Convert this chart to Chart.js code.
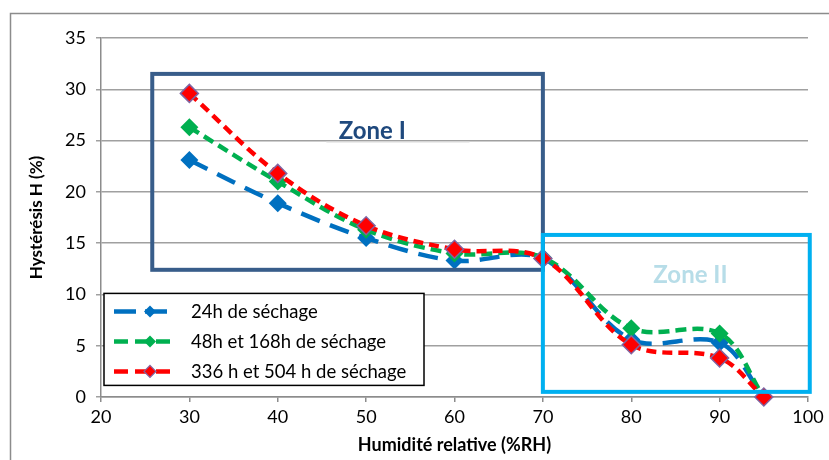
<!DOCTYPE html>
<html>
<head>
<meta charset="utf-8">
<script src="https://cdn.jsdelivr.net/npm/chart.js@4"></script>
<style>
  html, body { margin: 0; padding: 0; background: #fff; }
  #wrap { width: 829px; height: 460px; position: relative; }
</style>
</head>
<body>
<div id="wrap"><canvas id="chart"></canvas></div>
<script>
// Humidité relative (%RH)
const rh = [30, 40, 50, 60, 70, 80, 90, 95];
// Hystérésis H (%)
const h24 = [23.1, 18.9, 15.5, 13.3, 13.5, 5.6, 5.3, 0];
const h48 = [26.3, 21.0, 16.3, 14.0, 13.6, 6.7, 6.2, 0];
const h336 = [29.6, 21.8, 16.7, 14.4, 13.5, 5.1, 3.8, 0];

const seriesLabels = ['24h de séchage', '48h et 168h de séchage', '336 h et 504 h de séchage'];
const seriesColors = ['#0070C0', '#00B050', '#FF0000'];
const seriesDash = [[20, 11], [11, 6], [10, 6]];

// zones in data units: [xMin, xMax, yMin, yMax]
const zone1 = [25.8, 70, 12.4, 31.5];
const zone2 = [70, 100.2, 0.5, 15.8];

const toPoints = (ys) => rh.map((x, i) => ({ x, y: ys[i] }));

function ds(i, ys, order) {
  return {
    label: seriesLabels[i],
    data: toPoints(ys),
    borderColor: seriesColors[i],
    backgroundColor: seriesColors[i],
    borderWidth: 4.5,
    borderDash: seriesDash[i],
    tension: 0.35,
    pointStyle: 'rectRot',
    pointRadius: 9,
    pointBorderWidth: i === 2 ? 1.5 : 0,
    pointBorderColor: i === 2 ? '#8064A2' : seriesColors[i],
    pointBackgroundColor: seriesColors[i],
    clip: false,
    order
  };
}

const font = 'Lato, "Open Sans", sans-serif';

const decor = {
  id: 'decor',
  beforeDraw(chart) {
    const c = chart.ctx;
    c.save();
    c.strokeStyle = '#8c8c8c';
    c.lineWidth = 1.5;
    c.strokeRect(10.5, 13.5, 1000, 1000);
    c.restore();
  },
  afterDatasetsDraw(chart) {
    const c = chart.ctx;
    const xs = chart.scales.x, ys = chart.scales.y;
    const box = (z, col) => {
      const l = xs.getPixelForValue(z[0]), r = xs.getPixelForValue(z[1]);
      const t = ys.getPixelForValue(z[3]), b = ys.getPixelForValue(z[2]);
      c.strokeStyle = col;
      c.lineWidth = 4;
      c.strokeRect(l, t, r - l, b - t);
    };
    c.save();
    box(zone1, '#385D8A');
    box(zone2, '#00B0F0');

    // zone labels
    c.textAlign = 'center';
    c.textBaseline = 'middle';
    c.font = 'bold 24px ' + font;
    c.strokeStyle = '#e0e0e0';
    c.lineWidth = 1;
    c.beginPath();
    c.moveTo(xs.getPixelForValue(45.5), ys.getPixelForValue(24.9) + 0.5);
    c.lineTo(xs.getPixelForValue(61.7), ys.getPixelForValue(24.9) + 0.5);
    c.stroke();
    c.fillStyle = '#1F497D';
    c.fillText('Zone I', xs.getPixelForValue(50.7), ys.getPixelForValue(25.9));
    c.fillStyle = '#B7DDE8';
    c.fillText('Zone II', xs.getPixelForValue(86.7), ys.getPixelForValue(11.9));

    // legend
    const lx = chart.chartArea.left + 3, ly = ys.getPixelForValue(10.1);
    const lw = 320, lh = 92;
    c.fillStyle = '#fff';
    c.fillRect(lx, ly, lw, lh);
    c.strokeStyle = '#000';
    c.lineWidth = 1.5;
    c.strokeRect(lx, ly, lw, lh);
    c.font = '18.5px ' + font;
    c.textAlign = 'left';
    seriesLabels.forEach((lab, i) => {
      const y = ly + 18 + i * 30;
      c.strokeStyle = seriesColors[i];
      c.lineWidth = 4.5;
      c.setLineDash(i === 0 ? [22, 9] : [14, 7]);
      c.beginPath();
      c.moveTo(lx + 10, y);
      c.lineTo(lx + 72, y);
      c.stroke();
      c.setLineDash([]);
      const mx = lx + 46;
      c.fillStyle = seriesColors[i];
      c.beginPath();
      c.moveTo(mx, y - 6); c.lineTo(mx + 6, y); c.lineTo(mx, y + 6); c.lineTo(mx - 6, y);
      c.closePath();
      c.fill();
      if (i === 2) { c.strokeStyle = '#8064A2'; c.lineWidth = 1.2; c.stroke(); }
      c.fillStyle = '#000';
      c.fillText(lab, lx + 87, y + 1);
    });
    c.restore();
  }
};

new Chart(document.getElementById('chart'), {
  type: 'line',
  data: {
    datasets: [ds(0, h24, 3), ds(1, h48, 2), ds(2, h336, 1)]
  },
  options: {
    responsive: true,
    maintainAspectRatio: false,
    animation: false,
    layout: { padding: { top: 38, right: 21, left: 26, bottom: 0 } },
    plugins: { legend: { display: false }, tooltip: { enabled: false } },
    scales: {
      x: {
        type: 'linear',
        min: 20, max: 100,
        ticks: { stepSize: 10, color: '#000', font: { family: font, size: 18 }, padding: 4 },
        grid: { drawOnChartArea: false, drawTicks: true, tickLength: 5, color: '#8c8c8c', lineWidth: 1.5 },
        border: { color: '#8c8c8c', width: 1.5 },
        title: { display: true, text: 'Humidité relative (%RH)', color: '#000', font: { family: font, size: 18, weight: 'bold' }, padding: { top: 4 } },
        afterFit(s) { s.height = 63; }
      },
      y: {
        min: 0, max: 35,
        ticks: { stepSize: 5, color: '#000', font: { family: font, size: 18 }, padding: 10 },
        grid: { color: '#a0a0a0', lineWidth: 1.5, tickLength: 5 },
        border: { color: '#8c8c8c', width: 1.5 },
        title: { display: true, text: 'Hystérésis H (%)', color: '#000', font: { family: font, size: 17, weight: 'bold' }, padding: 0 },
        afterFit(s) { s.width = 75; }
      }
    }
  },
  plugins: [decor]
});
</script>
</body>
</html>
